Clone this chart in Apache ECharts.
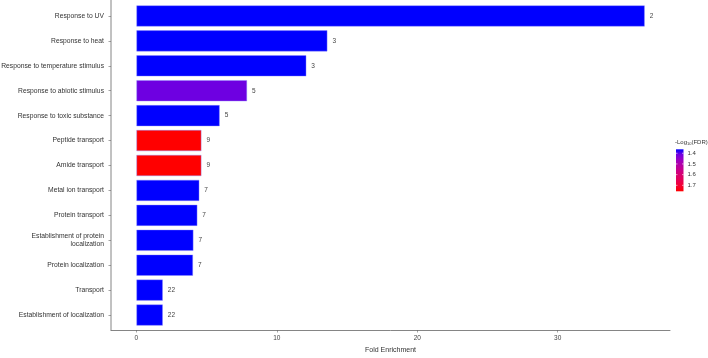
<!DOCTYPE html>
<html>
<head>
<meta charset="utf-8">
<script src="https://cdn.jsdelivr.net/npm/echarts@6/dist/echarts.min.js"></script>
<style>html,body{margin:0;padding:0;background:#fff}#c{width:708px;height:358px}</style>
</head>
<body>
<div id="c"></div>
<script>
const categories = [
  'Response to UV', 'Response to heat', 'Response to temperature stimulus',
  'Response to abiotic stimulus', 'Response to toxic substance', 'Peptide transport',
  'Amide transport', 'Metal ion transport', 'Protein transport',
  'Establishment of protein\nlocalization', 'Protein localization', 'Transport',
  'Establishment of localization'
];
const foldEnrichment = [36.2, 13.6, 12.1, 7.88, 5.93, 4.63, 4.63, 4.48, 4.34, 4.06, 4.03, 1.88, 1.88];
const geneCounts = [2, 3, 3, 5, 5, 9, 9, 7, 7, 7, 7, 22, 22];
const negLog10FDR = [1.363, 1.363, 1.363, 1.41, 1.363, 1.756, 1.756, 1.363, 1.363, 1.363, 1.363, 1.363, 1.363];
const xTicks = [0, 10, 20, 30];
const fdrTicks = [1.4, 1.5, 1.6, 1.7];
const fdrMin = 1.363, fdrMax = 1.756;
const rampColors = ['#0000ff', '#7300e0', '#9a00c3', '#b500a5', '#ca0088', '#da006c', '#e80050', '#f40031', '#ff0000'];

const font = 'Liberation Sans, Arial, sans-serif';
const chart = echarts.init(document.getElementById('c'));

// colour bar legend
const cbX = 676, cbTop = 149.3, cbBottom = 191.3, cbW = 7.5;
const legendEls = [
  {
    type: 'rect', shape: { x: cbX, y: cbTop, width: cbW, height: cbBottom - cbTop },
    style: { fill: new echarts.graphic.LinearGradient(0, 0, 0, 1,
      rampColors.map((c, i) => ({ offset: i / (rampColors.length - 1), color: c }))) }
  },
  {
    type: 'text', x: 675, y: 139,
    style: { text: '{a|-Log}{s|10}{a|(FDR)}', font: '6px ' + font,
      rich: { a: { fontSize: 6, fill: '#333', fontFamily: font }, s: { fontSize: 4, fill: '#333', fontFamily: font, verticalAlign: 'bottom', padding: [3, 0, 0, 0] } } }
  },
  // continuous left axis line down to the bottom axis
  { type: 'line', shape: { x1: 111, y1: 0, x2: 111, y2: 330.4 }, style: { stroke: '#666', lineWidth: 0.8 } }
];
fdrTicks.forEach(v => {
  const y = cbTop + (v - fdrMin) / (fdrMax - fdrMin) * (cbBottom - cbTop);
  legendEls.push({ type: 'text', x: cbX + cbW + 4, y: y,
    style: { text: v.toFixed(1), fontSize: 6, fontFamily: font, fill: '#333', verticalAlign: 'middle' } });
  legendEls.push({ type: 'line', shape: { x1: cbX, y1: y, x2: cbX + 1.5, y2: y }, style: { stroke: '#fff', lineWidth: 0.6 } });
  legendEls.push({ type: 'line', shape: { x1: cbX + cbW - 1.5, y1: y, x2: cbX + cbW, y2: y }, style: { stroke: '#fff', lineWidth: 0.6 } });
});

chart.setOption({
  animation: false,
  backgroundColor: '#fff',
  grid: { left: 111, right: 38, top: 3.5, bottom: 30.5, containLabel: false, outerBoundsMode: 'none' },
  visualMap: {
    show: false, type: 'continuous', dimension: 2, seriesIndex: 0,
    min: fdrMin, max: fdrMax, inRange: { color: rampColors }
  },
  xAxis: {
    type: 'value', min: -1.81, max: 38.0, offset: 2.5,
    name: 'Fold Enrichment', nameLocation: 'middle', nameGap: 16,
    nameTextStyle: { fontSize: 7, color: '#333', fontFamily: font },
    axisLine: { show: true, onZero: false, lineStyle: { color: '#666', width: 0.8 } },
    axisTick: { show: true, length: 2.5, customValues: xTicks, lineStyle: { color: '#666', width: 0.6 } },
    axisLabel: { customValues: xTicks, fontSize: 6.5, color: '#444', fontFamily: font, margin: 5 },
    splitLine: { show: false }
  },
  yAxis: {
    type: 'category', data: categories, inverse: true,
    axisLine: { show: false, onZero: false },
    axisTick: { show: true, alignWithLabel: true, length: 2.5, lineStyle: { color: '#666', width: 0.6 } },
    axisLabel: { fontSize: 6.75, color: '#333', fontFamily: font, margin: 7, lineHeight: 8.5, align: 'right' },
    splitLine: { show: false }
  },
  series: [{
    type: 'bar',
    data: foldEnrichment.map((v, i) => [v, categories[i], negLog10FDR[i]]),
    encode: { x: 0, y: 1 },
    barWidth: '85%',
    itemStyle: { borderColor: 'rgba(140,140,255,0.7)', borderWidth: 0.6 },
    label: {
      show: true, position: 'right', distance: 5,
      formatter: p => String(geneCounts[p.dataIndex]),
      fontSize: 6.5, color: '#444', fontFamily: font
    }
  }],
  graphic: legendEls
});
</script>
</body>
</html>
